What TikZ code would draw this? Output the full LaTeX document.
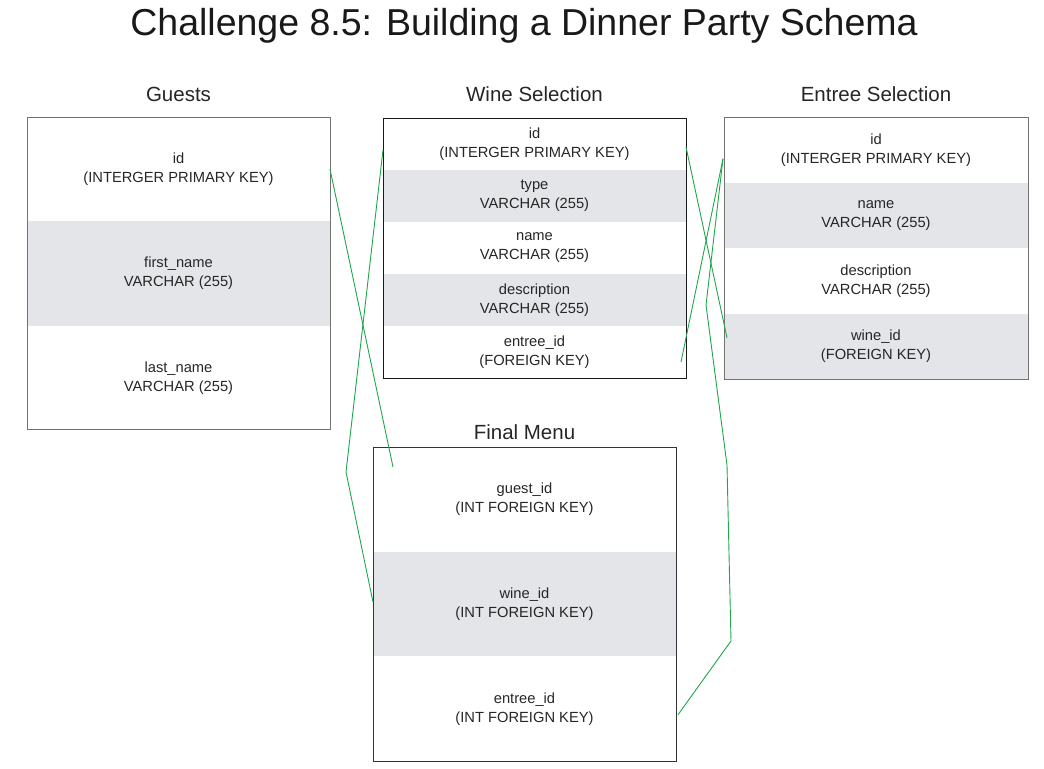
\documentclass[tikz,border=0pt]{standalone}
\usepackage{fontspec}
\setmainfont{Liberation Sans}
\usetikzlibrary{positioning, fit, calc}
\definecolor{rowgray}{HTML}{E4E5E8}
\definecolor{linkgreen}{HTML}{1FA64A}

\begin{document}
\begin{tikzpicture}[
  x=1bp, y=-1bp,
  node distance=0bp,
  row/.style={rectangle, minimum width=303bp, inner sep=0pt, outer sep=0pt, align=center, text=black!85, font=\fontsize{14.7bp}{19bp}\selectfont},
  greyrow/.style={fill=rowgray},
  tbl/.style={draw=black!55, line width=0.9bp, inner sep=0pt, outer sep=0pt},
  hdr/.style={font=\fontsize{20.5bp}{24bp}\selectfont, text=black!85, inner sep=0pt, text depth=0pt},
  link/.style={draw=linkgreen, line width=0.9bp}
]
\useasboundingbox (0,0) rectangle (1044,769);

% Title
\node[font=\fontsize{37.5bp}{42bp}\selectfont, text=black!90, inner sep=0pt, anchor=base] (title) at (524,36) {Challenge 8.5: Building a Dinner Party Schema};

% Guests
\node[row, minimum height=104.3bp, anchor=north west] (g-id) at (27,117) {id\\(INTERGER PRIMARY KEY)};
\node[row, greyrow, minimum height=104.3bp, below=of g-id] (g-first) {first\_name\\VARCHAR (255)};
\node[row, minimum height=104.3bp, below=of g-first] (g-last) {last\_name\\VARCHAR (255)};
\node[tbl, fit=(g-id)(g-last)] (guests) {};
\node[hdr, above=15bp of guests] (guests-title) {Guests};

% Wine Selection
\node[row, minimum height=52bp, anchor=north west] (w-id) at (383,118) {id\\(INTERGER PRIMARY KEY)};
\node[row, greyrow, minimum height=52bp, below=of w-id] (w-type) {type\\VARCHAR (255)};
\node[row, minimum height=52bp, below=of w-type] (w-name) {name\\VARCHAR (255)};
\node[row, greyrow, minimum height=52bp, below=of w-name] (w-desc) {description\\VARCHAR (255)};
\node[row, minimum height=52bp, below=of w-desc] (w-entree) {entree\_id\\(FOREIGN KEY)};
\node[tbl, draw=black!90, fit=(w-id)(w-entree)] (wine) {};
\node[hdr, above=16bp of wine] (wine-title) {Wine Selection};

% Entree Selection
\node[row, minimum width=304bp, minimum height=65.5bp, anchor=north west] (e-id) at (724,117) {id\\(INTERGER PRIMARY KEY)};
\node[row, greyrow, minimum width=304bp, minimum height=65.5bp, below=of e-id] (e-name) {name\\VARCHAR (255)};
\node[row, minimum width=304bp, minimum height=65.5bp, below=of e-name] (e-desc) {description\\VARCHAR (255)};
\node[row, greyrow, minimum width=304bp, minimum height=65.5bp, below=of e-desc] (e-wine) {wine\_id\\(FOREIGN KEY)};
\node[tbl, fit=(e-id)(e-wine)] (entree) {};
\node[hdr, above=15bp of entree] (entree-title) {Entree Selection};

% Final Menu
\node[row, minimum height=104.7bp, anchor=north west] (fm-guest) at (373,447) {guest\_id\\(INT FOREIGN KEY)};
\node[row, greyrow, minimum height=104.7bp, below=of fm-guest] (fm-wine) {wine\_id\\(INT FOREIGN KEY)};
\node[row, minimum height=104.7bp, below=of fm-wine] (fm-entree) {entree\_id\\(INT FOREIGN KEY)};
\node[tbl, draw=black!80, fit=(fm-guest)(fm-entree)] (menu) {};
\node[hdr, above=7bp of menu] (menu-title) {Final Menu};

% bends of the connectors
\coordinate (bendA) at (346,472);
\coordinate (bendB) at (706,305);
\coordinate (bendC) at (727,465);
\coordinate (bendD) at (731,641);

% Connectors
\draw[link] (g-id.east) -- ($(fm-guest.north west)+(20,20)$);
\draw[link] ($(w-id.west)+(0,6)$) -- (bendA) -- ($(fm-wine.west)+(0,-2)$);
\draw[link] ($(w-id.east)+(0,3)$) -- ($(e-wine.west)+(3,-8.5)$);
\draw[link] ($(w-entree.east)+(-5,10)$) -- ($(e-id.west)+(-1,9)$);
\draw[link] ($(e-id.west)+(-1,9)$) -- (bendB) -- (bendC) -- (bendD) -- ($(fm-entree.east)+(2,6)$);
\end{tikzpicture}
\end{document}
